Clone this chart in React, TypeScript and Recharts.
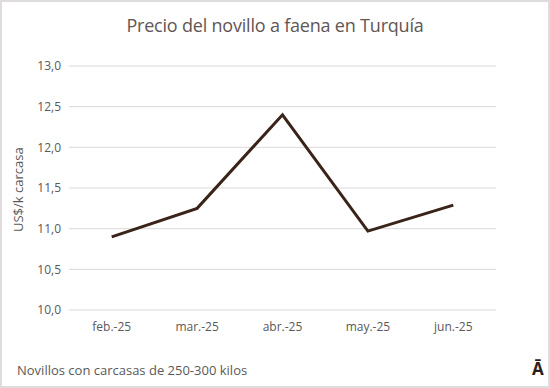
import { LineChart, Line, XAxis, YAxis, CartesianGrid } from "recharts"

const months = ["feb.-25", "mar.-25", "abr.-25", "may.-25", "jun.-25"]
const prices = [10.9, 11.25, 12.4, 10.97, 11.29]
const yTicks = [10, 10.5, 11, 11.5, 12, 12.5, 13]
const boundaryTicks = [0, 1, 2, 3, 4, 5]

const data = months.map((m, i) => ({ month: m, price: prices[i] }))

const font = "'Open Sans', sans-serif"
const textColor = "#595959"

export default function App() {
    return (
        <div
            style={{
                position: "absolute",
                left: 0,
                top: 0,
                width: 550,
                height: 388,
                boxSizing: "border-box",
                border: "2px solid #e0dcdc",
                background: "#fff",
                fontFamily: font,
            }}
        >
            <div
                style={{
                    position: "absolute",
                    top: 11,
                    left: 0,
                    width: 546,
                    textAlign: "center",
                    fontSize: 18,
                    color: "#5f5656",
                    letterSpacing: -0.2,
                }}
            >
                Precio del novillo a faena en Turquía
            </div>
            <div style={{ position: "absolute", left: -2, top: -2 }}>
                <LineChart width={550} height={388} data={data} margin={{ top: 66, right: 54, left: 29, bottom: 48 }}>
                    <CartesianGrid vertical={false} stroke="#d9d9d9" />
                    <XAxis
                        xAxisId="b"
                        type="number"
                        domain={[0, 5]}
                        ticks={boundaryTicks}
                        height={0}
                        tickFormatter={() => ""}
                        axisLine={{ stroke: "#d9d9d9" }}
                        tickLine={{ stroke: "#d9d9d9" }}
                        tickSize={4}
                    />
                    <XAxis
                        xAxisId="cat"
                        dataKey="month"
                        scale="band"
                        axisLine={false}
                        tickLine={false}
                        height={30}
                        tick={{ fill: textColor, fontSize: 12, fontFamily: font }}
                        dy={4}
                    />
                    <YAxis
                        domain={[10, 13]}
                        ticks={yTicks}
                        width={40}
                        axisLine={false}
                        tickLine={false}
                        tickFormatter={(v: number) => v.toFixed(1).replace(".", ",")}
                        tick={{ fill: textColor, fontSize: 12, fontFamily: font }}
                        label={{
                            value: "US$/k carcasa",
                            angle: -90,
                            position: "insideLeft",
                            dx: -16,
                            dy: 44,
                            style: { fill: textColor, fontSize: 13, fontFamily: font },
                        }}
                    />
                    <Line
                        xAxisId="cat"
                        type="linear"
                        dataKey="price"
                        stroke="#3a2318"
                        strokeWidth={3}
                        dot={false}
                        isAnimationActive={false}
                    />
                </LineChart>
            </div>
            <div style={{ position: "absolute", left: 15, top: 359, fontSize: 13, color: textColor }}>
                Novillos con carcasas de 250-300 kilos
            </div>
            <div style={{ position: "absolute", left: 530, top: 355, fontSize: 17, fontWeight: 700, color: "#2b1d17" }}>
                Ā
            </div>
        </div>
    )
}
